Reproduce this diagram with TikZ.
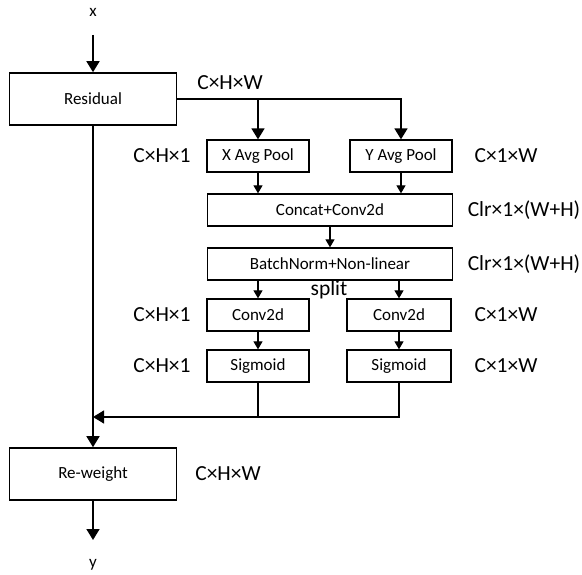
\documentclass[tikz,border=0pt]{standalone}
\usepackage{fontspec}
\setmainfont{Carlito}
\usetikzlibrary{arrows.meta}

\begin{document}
\begin{tikzpicture}[x=1pt, y=-1pt,
    blk/.style={draw, line width=1.6pt, inner sep=0pt, font=\fontsize{17}{20}\selectfont},
    op/.style={draw, line width=1.3pt, inner sep=0pt, minimum height=32pt, font=\fontsize{17}{20}\selectfont},
    dim/.style={font=\fontsize{21.5}{25}\selectfont},
    bigarrow/.style={line width=1.6pt, -{Triangle[width=13pt,length=11pt]}},
    thinarrow/.style={line width=1.2pt, -{Triangle[width=9pt,length=8pt]}}]
      \useasboundingbox (0,0) rectangle (582,575);
      % input / output
      \node[font=\fontsize{17}{20}\selectfont] (x) at (93,12) {x};
      \node[font=\fontsize{17}{20}\selectfont] (y) at (93,565) {y};
      \coordinate (xin) at (93,35);
      \coordinate (yend) at (93,540);
      \coordinate (join) at (93,417);
      % blocks
      \node[blk, minimum width=167pt, minimum height=52pt] (res) at (93,99) {Residual};
      \node[blk, minimum width=167pt, minimum height=52pt] (rw) at (93,474) {Re-weight};
      \node[op, minimum width=102pt] (xpool) at (258,156) {X Avg Pool};
      \node[op, minimum width=102pt] (ypool) at (401,156) {Y Avg Pool};
      \node[op, minimum width=245pt] (concat) at (330,210) {Concat+Conv2d};
      \node[op, minimum width=245pt] (bn) at (330,264) {BatchNorm+Non-linear};
      \node[op, minimum width=102pt] (conv1) at (258,315) {Conv2d};
      \node[op, minimum width=104pt] (conv2) at (399,315) {Conv2d};
      \node[op, minimum width=102pt] (sig1) at (258,366) {Sigmoid};
      \node[op, minimum width=104pt] (sig2) at (399,366) {Sigmoid};
      % sizes
      \node[dim] (d0) at (230,83) {C×H×W};
      \node[dim] (d1) at (162,156) {C×H×1};
      \node[dim] (d2) at (506,156) {C×1×W};
      \node[dim] (d3) at (524,210) {Clr×1×(W+H)};
      \node[dim] (d4) at (524,264) {Clr×1×(W+H)};
      \node[dim] (split) at (329,290) {split};
      \node[dim] (d5) at (162,315) {C×H×1};
      \node[dim] (d6) at (506,315) {C×1×W};
      \node[dim] (d7) at (162,366) {C×H×1};
      \node[dim] (d8) at (506,366) {C×1×W};
      \node[dim] (d9) at (228,474) {C×H×W};
      % connectors
      \draw[bigarrow] (xin) -- (res);
      \draw[bigarrow] (res.east) -| (ypool.north);
      \draw[bigarrow] (xpool.north |- res.east) -- (xpool.north);
      \draw[thinarrow] (xpool.south) -- (xpool.south |- concat.north);
      \draw[thinarrow] (ypool.south) -- (ypool.south |- concat.north);
      \draw[thinarrow] (concat) -- (bn);
      \draw[thinarrow] (conv1.north |- bn.south) -- (conv1.north);
      \draw[thinarrow] (conv2.north |- bn.south) -- (conv2.north);
      \draw[thinarrow] (conv1) -- (sig1);
      \draw[thinarrow] (conv2) -- (sig2);
      \draw[line width=1.3pt] (sig1.south) -- (sig1.south |- join);
      \draw[line width=1.3pt, -{Triangle[width=13pt,length=11pt]}] (sig2.south) |- (join);
      \draw[bigarrow] (res) -- (rw);
      \draw[bigarrow] (rw) -- (yend);
\end{tikzpicture}
\end{document}
